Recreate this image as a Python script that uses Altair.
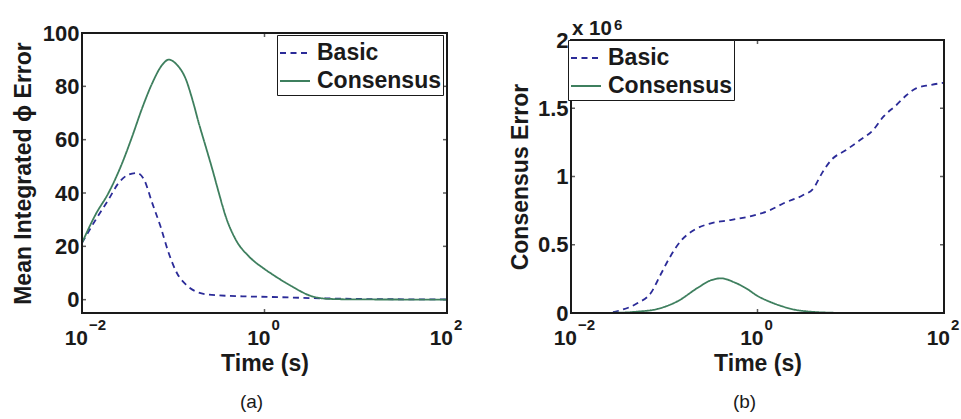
import altair as alt
import pandas as pd

# ---------------- data ----------------
series_names = ["Basic", "Consensus"]
series_colors = ["#2b2b98", "#3e7f5e"]
series_dashes = [[6, 4.5], [1, 0]]

# panel (a): Mean Integrated phi Error, x given as log10(time)
a_basic_logt = [-2.0, -1.85, -1.71, -1.60, -1.49, -1.40, -1.32, -1.23, -1.14, -1.05,
                -0.96, -0.86, -0.755, -0.61, -0.24, 0.09, 0.5, 0.8, 1.2, 2.0]
a_basic_val = [21.3, 30.0, 37.5, 43.7, 46.9, 47.5, 45.0, 36.2, 27.5, 17.5,
               10.0, 5.6, 3.1, 1.9, 1.25, 1.0, 0.6, 0.4, 0.2, 0.1]
a_cons_logt = [-2.0, -1.85, -1.71, -1.56, -1.45, -1.34, -1.23, -1.12, -1.05, -0.96,
               -0.86, -0.79, -0.72, -0.645, -0.57, -0.50, -0.425, -0.315, -0.17, 0.0,
               0.09, 0.3, 0.5, 0.7, 1.0, 1.5, 2.0]
a_cons_val = [21.3, 32.0, 40.0, 51.2, 61.2, 71.9, 81.2, 88.1, 90.0, 88.1,
              82.5, 75.0, 66.2, 57.5, 48.7, 40.0, 31.2, 22.5, 16.2, 11.5,
              9.4, 5.0, 1.5, 0.3, 0.1, 0.05, 0.0]

# panel (b): Consensus Error (x 10^6), x given as log10(time)
b_basic_logt = [-2.0, -1.64, -1.46, -1.29, -1.14, -1.04, -0.93, -0.82, -0.68, -0.50,
                -0.29, -0.07, 0.14, 0.28, 0.49, 0.60, 0.69, 0.79, 0.95, 1.10,
                1.24, 1.35, 1.49, 1.60, 1.70, 1.85, 2.0]
b_basic_val = [0.0, 0.0, 0.022, 0.071, 0.15, 0.28, 0.42, 0.53, 0.608, 0.657,
               0.681, 0.71, 0.755, 0.804, 0.864, 0.913, 1.023, 1.12, 1.194, 1.267,
               1.34, 1.438, 1.524, 1.597, 1.646, 1.67, 1.687]
b_cons_logt = [-2.0, -1.5, -1.29, -1.07, -0.86, -0.64, -0.50, -0.39, -0.25, -0.12,
               0.0, 0.14, 0.26, 0.38, 0.6, 0.8, 1.0, 2.0]
b_cons_val = [0.0, 0.002, 0.01, 0.03, 0.085, 0.185, 0.24, 0.254, 0.225, 0.18,
              0.125, 0.08, 0.05, 0.027, 0.008, 0.002, 0.0, 0.0]

x_tick_times = [0.01, 1, 100]
x_tick_base = ["10", "10", "10"]
x_tick_exp = ["\u22122", "0", "2"]
a_yticks = [0, 20, 40, 60, 80, 100]
b_yticks = [0, 0.5, 1, 1.5, 2]

FONT = "Liberation Sans"
INK = "#1a1a1a"


def series_df(logt, vals, name):
    return pd.DataFrame({"t": [10 ** e for e in logt], "v": vals, "series": name})


def panel(df, W, H, ydom, yticks, ytitle, ytitle_x, lx, ly, tag, tag_y, extras=()):
    xs = alt.Scale(type="log", domain=[0.01, 100], nice=False)
    ys = alt.Scale(domain=ydom, nice=False, zero=False)
    leg = alt.Legend(title=None, orient="none", legendX=lx, legendY=ly)

    lines = alt.Chart(df).mark_line(strokeWidth=1.8, interpolate="monotone").encode(
        x=alt.X("t:Q", scale=xs, axis=alt.Axis(
            title="Time (s)", labels=False, ticks=False, tickSize=0, domain=False,
            grid=False, titleY=57, titleBaseline="alphabetic")),
        y=alt.Y("v:Q", scale=ys, axis=alt.Axis(
            title=ytitle, values=yticks, labelExpr="'' + datum.value", ticks=False,
            tickSize=0, domain=False, grid=False, labelPadding=3,
            titleX=ytitle_x, titleY=H / 2, titleBaseline="alphabetic",
            titleAlign="center")),
        color=alt.Color("series:N", scale=alt.Scale(domain=series_names, range=series_colors), legend=leg),
        strokeDash=alt.StrokeDash("series:N", scale=alt.Scale(domain=series_names, range=series_dashes), legend=leg),
    )

    ytk = alt.Chart(pd.DataFrame({"v": yticks}))
    xtk = alt.Chart(pd.DataFrame({"t": x_tick_times, "base": x_tick_base, "exp": x_tick_exp}))
    tk = dict(color=INK, thickness=1.5, size=4)
    ytk_l = ytk.mark_tick(orient="horizontal", **tk).encode(y=alt.Y("v:Q", scale=ys), x=alt.value(2))
    ytk_r = ytk.mark_tick(orient="horizontal", **tk).encode(y=alt.Y("v:Q", scale=ys), x=alt.value(W - 2))
    xtk_b = xtk.mark_tick(orient="vertical", **tk).encode(x=alt.X("t:Q", scale=xs), y=alt.value(H - 2))
    xtk_t = xtk.mark_tick(orient="vertical", **tk).encode(x=alt.X("t:Q", scale=xs), y=alt.value(2))

    xlab = xtk.mark_text(align="right", baseline="alphabetic", dx=6, font=FONT,
                         fontSize=21, fontWeight="bold", color=INK).encode(
        x=alt.X("t:Q", scale=xs), y=alt.value(H + 32), text="base:N")
    xexp = xtk.mark_text(align="left", baseline="alphabetic", dx=7, font=FONT,
                         fontSize=15, fontWeight="bold", color=INK).encode(
        x=alt.X("t:Q", scale=xs), y=alt.value(H + 17), text="exp:N")

    tag_txt = alt.Chart(pd.DataFrame({"label": [tag]})).mark_text(
        align="center", baseline="alphabetic", font=FONT, fontSize=19, color=INK).encode(
        x=alt.value(W / 2 - 13), y=alt.value(tag_y), text="label:N")

    frame_rect = alt.Chart(pd.DataFrame({"f": [0]})).mark_rect(
        filled=False, stroke=INK, strokeWidth=2).encode(
        x=alt.value(0), x2=alt.value(W), y=alt.value(0), y2=alt.value(H))

    layers = [ytk_l, ytk_r, xtk_b, xtk_t, lines, xlab, xexp, tag_txt] + list(extras) + [frame_rect]
    return alt.layer(*layers).properties(
        width=W, height=H, view=alt.ViewBackground(stroke=INK, strokeWidth=2))


def spacer(W, h):
    return alt.Chart(pd.DataFrame({"s": [0]})).mark_point(opacity=0).encode(
        x=alt.value(0), y=alt.value(0)
    ).properties(width=W, height=h, view=alt.ViewBackground(strokeOpacity=0))


df_a = pd.concat([series_df(a_basic_logt, a_basic_val, "Basic"),
                  series_df(a_cons_logt, a_cons_val, "Consensus")])
df_b = pd.concat([series_df(b_basic_logt, b_basic_val, "Basic"),
                  series_df(b_cons_logt, b_cons_val, "Consensus")])

mult_df = pd.DataFrame({"base": ["x 10"], "exp": ["6"]})
mult = alt.Chart(mult_df).mark_text(align="left", baseline="alphabetic", font=FONT, fontSize=20.5,
                                    fontWeight="bold", color=INK).encode(
    x=alt.value(1), y=alt.value(-5), text="base:N")
mult_exp = alt.Chart(mult_df).mark_text(align="left", baseline="alphabetic", font=FONT, fontSize=15,
                                        fontWeight="bold", color=INK).encode(
    x=alt.value(43), y=alt.value(-10), text="exp:N")

panel_a = panel(df_a, 365, 280, [-5, 100], a_yticks, "Mean Integrated \u03d5 Error", -52, 195, 3, "(a)", 375)
panel_b = panel(df_b, 373, 273, [0, 2], b_yticks, "Consensus Error", -44, -3, 8, "(b)", 368,
                extras=[mult, mult_exp])

left_col = alt.vconcat(spacer(365, 1), panel_a, spacing=0, bounds="flush")
right_col = alt.vconcat(spacer(373, 8), panel_b, spacing=0, bounds="flush")

chart = alt.hconcat(left_col, right_col, spacing=489, bounds="flush").resolve_scale(
    x="independent", y="independent", color="independent", strokeDash="independent"
).properties(
    padding={"left": 10, "top": 17, "right": 0, "bottom": 0}, background="white"
).configure_view(stroke=INK, strokeWidth=2).configure_axis(
    labelFont=FONT, labelFontSize=22, labelFontWeight="bold", labelColor=INK,
    titleFont=FONT, titleFontSize=23, titleFontWeight="bold", titleColor=INK,
).configure_legend(
    strokeColor=INK, fillColor="white", padding=2, rowPadding=0, cornerRadius=0,
    labelFont=FONT, labelFontSize=23, labelFontWeight="bold", labelColor=INK,
    symbolType="stroke", symbolSize=900, symbolStrokeWidth=1.8, labelOffset=6,
)

chart.save("out.html", embed_options={"renderer": "svg", "actions": False})
